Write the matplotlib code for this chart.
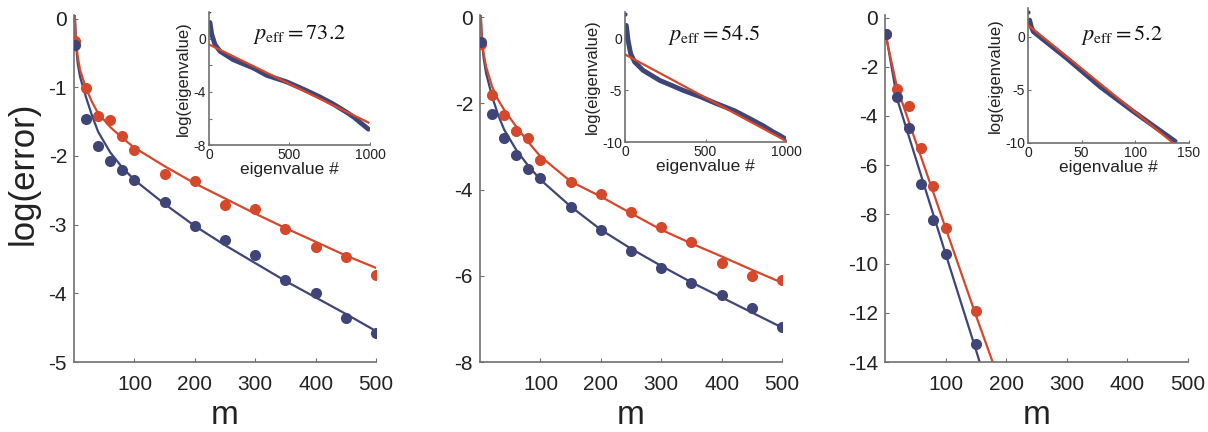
import numpy as np
import matplotlib
matplotlib.use("Agg")
import matplotlib.pyplot as plt

plt.rcParams['font.family'] = ['Liberation Sans', 'DejaVu Sans']
plt.rcParams['axes.unicode_minus'] = False
plt.rcParams['mathtext.fontset'] = 'stix'

RED = "#d4482c"
BLUE = "#3f4577"
GREY = "#707070"

# ---- 左パネル (p_eff = 73.2)
m_pts = [1, 20, 40, 60, 80, 100, 150, 200, 250, 300, 350, 400, 450, 500]
err1_red = [-0.33, -1.01, -1.42, -1.48, -1.71, -1.92, -2.26, -2.36, -2.71, -2.77, -3.06, -3.32, -3.47, -3.74]
err1_blue = [-0.39, -1.46, -1.86, -2.08, -2.21, -2.35, -2.67, -3.02, -3.22, -3.44, -3.80, -4.00, -4.36, -4.58]
m_fit = [1, 3, 6, 10, 20, 30, 40, 60, 80, 100, 150, 200, 250, 300, 350, 400, 450, 500]
fit1_red = [0.1, -0.3, -0.55, -0.75, -1.02, -1.22, -1.38, -1.58, -1.74, -1.88, -2.15, -2.40, -2.62, -2.84, -3.05, -3.25, -3.45, -3.63]
fit1_blue = [0.1, -0.35, -0.65, -0.85, -1.15, -1.42, -1.65, -1.95, -2.17, -2.35, -2.70, -3.02, -3.30, -3.56, -3.82, -4.06, -4.30, -4.55]

# ---- 中央パネル (p_eff = 54.5)
err2_red = [-0.63, -1.80, -2.27, -2.63, -2.79, -3.31, -3.83, -4.10, -4.51, -4.86, -5.21, -5.71, -6.00, -6.09]
err2_blue = [-0.58, -2.25, -2.81, -3.19, -3.53, -3.73, -4.41, -4.93, -5.43, -5.82, -6.16, -6.44, -6.74, -7.19]
fit2_red = [0.1, -0.5, -0.85, -1.15, -1.61, -1.92, -2.15, -2.54, -2.90, -3.23, -3.81, -4.16, -4.55, -4.93, -5.25, -5.55, -5.86, -6.16]
fit2_blue = [0.1, -0.55, -0.95, -1.3, -1.84, -2.27, -2.61, -3.08, -3.45, -3.77, -4.39, -4.93, -5.37, -5.77, -6.15, -6.50, -6.85, -7.20]

# ---- 右パネル (p_eff = 5.2)
m3_pts = [1, 20, 40, 60, 80, 100, 150]
err3_red = [-0.67, -2.90, -3.58, -5.30, -6.83, -8.57, -11.92]
err3_blue = [-0.67, -3.24, -4.48, -6.75, -8.21, -9.61, -13.27]
m3_fit_red = [1, 20, 60, 100, 150, 185]
fit3_red = [-0.7, -2.85, -5.7, -8.55, -12.1, -14.5]
m3_fit_blue = [1, 20, 60, 100, 150, 165]
fit3_blue = [-0.6, -3.3, -6.45, -9.6, -13.5, -14.7]

# ---- 挿入図: 固有値スペクトル
ev1_idx = [6, 17, 37, 68, 151, 275, 358, 482, 600, 689, 770, 855, 900, 938, 965, 990]
ev1_val = [1.22, 0.33, -0.43, -0.94, -1.58, -2.20, -2.75, -3.24, -3.87, -4.38, -4.90, -5.53, -5.90, -6.29, -6.55, -6.80]
ev1_top = (0, 2.06)
ev1_fit_idx = [0, 990]
ev1_fit = [-0.43, -6.30]

ev2_idx = [8, 19, 35, 60, 112, 216, 290, 362, 470, 570, 680, 777, 860, 922, 960, 995]
ev2_val = [1.22, -0.22, -1.50, -2.30, -3.10, -4.07, -4.55, -5.03, -5.65, -6.31, -6.98, -7.76, -8.45, -9.04, -9.35, -9.68]
ev2_top = (2, 2.34)
ev2_fit_idx = [0, 995]
ev2_fit = [-1.57, -9.84]

ev3_idx = [1.5, 3, 5, 36, 67, 98, 137]
ev3_val = [1.56, 0.94, 0.47, -2.03, -4.69, -7.03, -9.84]
ev3_top = (0.3, 2.34)
ev3_fit_idx = [0, 134.5]
ev3_fit = [1.1, -9.94]


def style_axes(ax):
    for s in ['top', 'right']:
        ax.spines[s].set_visible(False)
    for s in ['left', 'bottom']:
        ax.spines[s].set_color(GREY)
        ax.spines[s].set_linewidth(1.2)
    ax.tick_params(direction='in', color=GREY, length=3)


fig = plt.figure(figsize=(12.08, 4.32), dpi=100)

main_pos = [[0.0613, 0.162, 0.250, 0.803],
            [0.3974, 0.162, 0.250, 0.803],
            [0.7326, 0.162, 0.2508, 0.803]]
inset_pos = [[0.1730, 0.664, 0.1333, 0.308],
             [0.5174, 0.671, 0.1333, 0.301],
             [0.8510, 0.669, 0.1333, 0.3125]]

panels = [
    (m_pts, err1_red, err1_blue, m_fit, fit1_red, m_fit, fit1_blue, (-5, 0.05), [0, -1, -2, -3, -4, -5]),
    (m_pts, err2_red, err2_blue, m_fit, fit2_red, m_fit, fit2_blue, (-8, 0.05), [0, -2, -4, -6, -8]),
    (m3_pts, err3_red, err3_blue, m3_fit_red, fit3_red, m3_fit_blue, fit3_blue, (-14, 0.1), [0, -2, -4, -6, -8, -10, -12, -14]),
]

for i, (mp, er, eb, mfr, fr, mfb, fb, ylim, yt) in enumerate(panels):
    ax = fig.add_axes(main_pos[i])
    ax.plot(mfb, fb, color=BLUE, lw=1.6, zorder=2)
    ax.plot(mfr, fr, color=RED, lw=1.6, zorder=2)
    ax.plot(mp, er, 'o', color=RED, ms=8, mec='none', zorder=3)
    ax.plot(mp, eb, 'o', color=BLUE, ms=8, mec='none', zorder=4)
    ax.set_xlim(0, 500)
    ax.set_ylim(*ylim)
    ax.set_xticks([100, 200, 300, 400, 500])
    ax.set_yticks(yt)
    ax.set_yticklabels([str(v) for v in yt])
    style_axes(ax)
    ax.tick_params(labelsize=15, colors='#222222')
    ax.tick_params(axis='x', pad=9)
    ax.tick_params(axis='y', pad=5)
    ax.tick_params(color=GREY)
    ax.set_xlabel("m", fontsize=24, color='#222222', labelpad=5)
    if i == 0:
        ax.set_ylabel("log(error)", fontsize=25, color='#222222')
        ax.yaxis.set_label_coords(-0.115, 0.545)

insets = [
    (ev1_idx, ev1_val, ev1_top, ev1_fit_idx, ev1_fit, (0, 1000), [0, 500, 1000], (-8, 2),
     [-8, -6, -4, -2, 0], ['-8', '', '-4', '', '0'], r'$p_{\mathrm{eff}} = 73.2$', (0.565, 0.83)),
    (ev2_idx, ev2_val, ev2_top, ev2_fit_idx, ev2_fit, (0, 1000), [0, 500, 1000], (-10, 2.5),
     [-10, -5, 0], ['-10', '-5', '0'], r'$p_{\mathrm{eff}} = 54.5$', (0.553, 0.823)),
    (ev3_idx, ev3_val, ev3_top, ev3_fit_idx, ev3_fit, (0, 150), [0, 50, 100, 150], (-10, 2.7),
     [-10, -5, 0], ['-10', '-5', '0'], r'$p_{\mathrm{eff}} = 5.2$', (0.584, 0.80)),
]

for i, (ix, iv, top, fx, fv, xl, xt, yl, yt, ytl, txt, tpos) in enumerate(insets):
    ax = fig.add_axes(inset_pos[i])
    ax.plot(ix, iv, color=BLUE, lw=3.5, solid_capstyle='round', solid_joinstyle='round', zorder=2)
    ax.plot([top[0]], [top[1]], 'o', color=BLUE, ms=3, mec='none', zorder=2)
    ax.plot(fx, fv, color=RED, lw=1.6, zorder=3)
    ax.set_xlim(*xl)
    ax.set_ylim(*yl)
    ax.set_xticks(xt)
    ax.set_yticks(yt)
    ax.set_yticklabels(ytl)
    style_axes(ax)
    ax.tick_params(labelsize=10, colors='#222222', pad=2, length=2.5)
    ax.tick_params(color=GREY)
    ax.set_xlabel("eigenvalue #", fontsize=12.5, color='#222222', labelpad=0)
    ax.set_ylabel("log(eigenvalue)", fontsize=12, color='#222222', labelpad=2)
    ax.patch.set_alpha(0)
    ax.text(tpos[0], tpos[1], txt, transform=ax.transAxes, fontsize=16,
            ha='center', va='center', color='#111111')

plt.savefig('out.png', dpi=100)
